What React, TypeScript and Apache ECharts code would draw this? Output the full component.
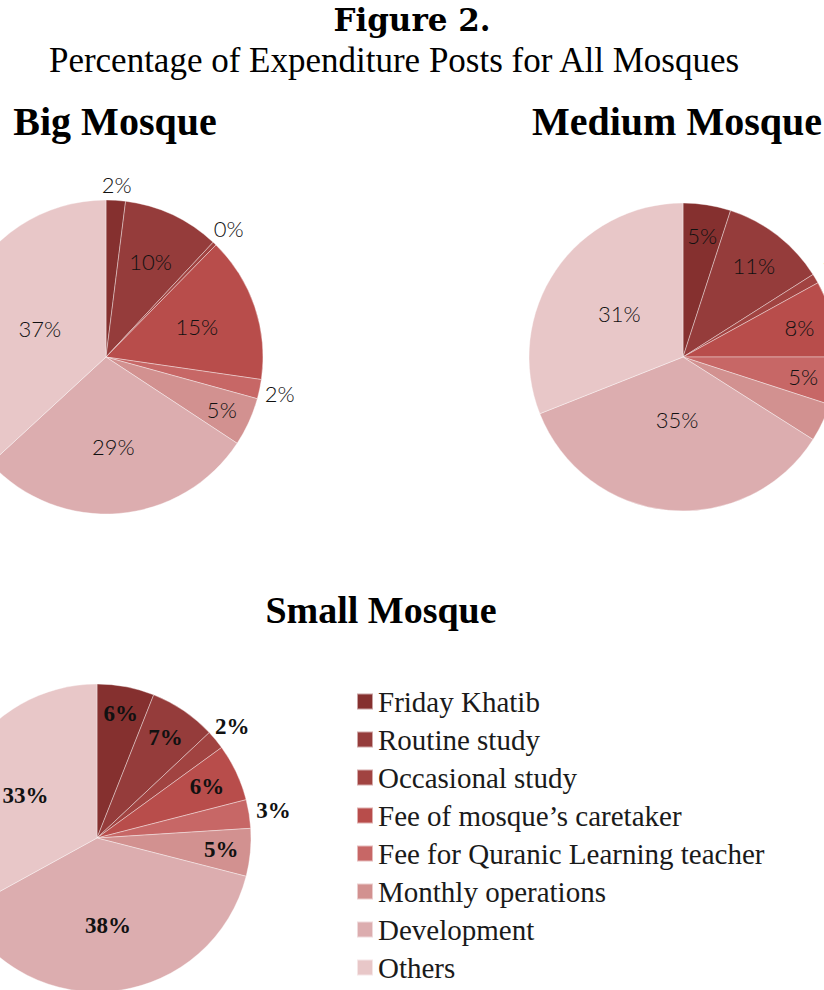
import React, { useEffect, useRef } from "react";
import * as echarts from "echarts";

const categories = [
  "Friday Khatib",
  "Routine study",
  "Occasional study",
  "Fee of mosque\u2019s caretaker",
  "Fee for Quranic Learning teacher",
  "Monthly operations",
  "Development",
  "Others",
];
const colors = ["#85302F", "#953C3B", "#A14341", "#B84D4B", "#C76766", "#D29190", "#DCADAF", "#E8C7C8"];

const bigValues = [2, 10, 0.4, 15, 2, 5, 29, 37];
const mediumValues = [5, 11, 1, 8, 5, 4, 35, 31];
const smallValues = [6, 7, 2, 6, 3, 5, 38, 33];

// label distance from centre, as a fraction of radius (styling)
const bigLabelDist = [1.1, 0.67, 1.13, 0.61, 1.13, 0.81, 0.57, 0.46];
const mediumLabelDist = [0.8, 0.75, 1.16, 0.78, 0.79, 1.2, 0.41, 0.5];
const smallLabelDist = [0.82, 0.79, 1.14, 0.79, 1.16, 0.81, 0.57, 0.54];
// labels that fall outside the visible picture in the reference
const mediumHiddenLabels = [5];

const SERIF = "'Liberation Serif', 'DejaVu Serif', serif";
const WIDE_SERIF = "'DejaVu Serif', 'Liberation Serif', serif";

function makePie(
  values: number[],
  center: [number, number],
  r: number,
  dist: number[],
  labelStyle: any,
  hidden: number[] = []
) {
  const total = values.reduce((a, b) => a + b, 0);
  return {
    type: "pie",
    center,
    radius: r,
    startAngle: 90,
    clockwise: true,
    avoidLabelOverlap: false,
    silent: true,
    itemStyle: { borderColor: "rgba(255,255,255,0.55)", borderWidth: 0.7 },
    label: {
      show: true,
      position: "inside",
      formatter: (p: any) => Math.round(p.value) + "%",
      ...labelStyle,
    },
    labelLine: { show: false },
    labelLayout: (params: any) => {
      const i = params.dataIndex;
      let before = 0;
      for (let k = 0; k < i; k++) before += values[k];
      const mid = ((before + values[i] / 2) / total) * Math.PI * 2;
      const d = dist[i] * r;
      return {
        x: center[0] + d * Math.sin(mid),
        y: center[1] - d * Math.cos(mid),
        align: "center",
        verticalAlign: "middle",
      };
    },
    data: categories.map((name, i) => ({
      name,
      value: values[i],
      itemStyle: { color: colors[i] },
      label: hidden.includes(i) ? { show: false } : undefined,
    })),
  };
}

export default function App() {
  const ref = useRef<HTMLDivElement>(null);
  useEffect(() => {
    if (!ref.current) return;
    const chart = echarts.init(ref.current, null, { renderer: "svg" });
    const lightLabel = {
      fontFamily: "Lato, 'Open Sans', sans-serif",
      fontWeight: 300,
      fontSize: 22,
      color: "#111",
    };
    const boldLabel = {
      fontFamily: SERIF,
      fontWeight: "bold",
      fontSize: 23,
      color: "#111",
    };
    chart.setOption({
      animation: false,
      backgroundColor: "#ffffff",
      color: colors,
      graphic: [
        {
          type: "text",
          x: 412,
          y: 20,
          style: {
            text: "Figure 2.",
            font: `bold 31px ${WIDE_SERIF}`,
            fill: "#000",
            textAlign: "center",
            textVerticalAlign: "middle",
          },
        },
        {
          type: "text",
          x: 394,
          y: 60,
          style: {
            text: "Percentage of Expenditure Posts for All Mosques",
            font: `35px ${SERIF}`,
            fill: "#000",
            textAlign: "center",
            textVerticalAlign: "middle",
          },
        },
        {
          type: "text",
          x: 115,
          y: 121,
          style: {
            text: "Big Mosque",
            font: `bold 40px ${SERIF}`,
            fill: "#000",
            textAlign: "center",
            textVerticalAlign: "middle",
          },
        },
        {
          type: "text",
          x: 677,
          y: 121,
          style: {
            text: "Medium Mosque",
            font: `bold 40px ${SERIF}`,
            fill: "#000",
            textAlign: "center",
            textVerticalAlign: "middle",
          },
        },
        {
          type: "text",
          x: 381,
          y: 610,
          style: {
            text: "Small Mosque",
            font: `bold 38px ${SERIF}`,
            fill: "#000",
            textAlign: "center",
            textVerticalAlign: "middle",
          },
        },
      ],
      legend: {
        orient: "vertical",
        left: 356,
        top: 687,
        padding: 0,
        icon: "rect",
        itemWidth: 16,
        itemHeight: 16,
        itemGap: 9,
        selectedMode: false,
        data: categories,
        textStyle: {
          fontFamily: SERIF,
          fontSize: 29,
          lineHeight: 29,
          color: "#1a1a1a",
        },
      },
      series: [
        makePie(bigValues, [106, 357], 157, bigLabelDist, lightLabel),
        makePie(mediumValues, [683, 357], 154, mediumLabelDist, lightLabel, mediumHiddenLabels),
        makePie(smallValues, [97, 838], 154, smallLabelDist, boldLabel),
      ],
    });
    return () => chart.dispose();
  }, []);
  return (
    <div
      ref={ref}
      style={{ position: "absolute", left: 0, top: 0, width: 824, height: 990 }}
    />
  );
}
